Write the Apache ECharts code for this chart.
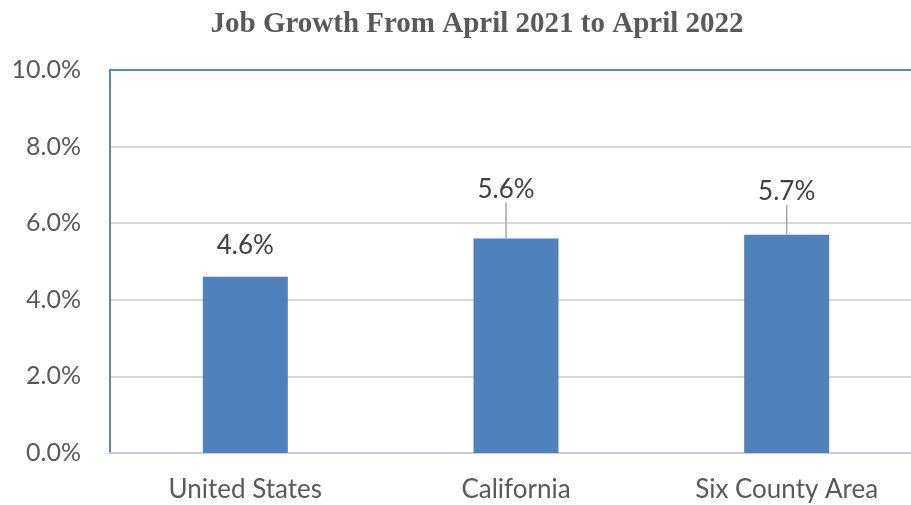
<!DOCTYPE html>
<html><head><meta charset="utf-8">
<script src="https://cdn.jsdelivr.net/npm/echarts@6/dist/echarts.min.js"></script>
<style>html,body{margin:0;padding:0;background:#fff;overflow:hidden;width:911px;height:505px}#c{width:922px;height:505px}</style>
</head><body><div id="c"></div>
<script>
const categories = ["United States", "California", "Six County Area"];
const growth = [4.6, 5.6, 5.7];
const yTicks = [0, 2, 4, 6, 8, 10];

const chart = echarts.init(document.getElementById('c'));
chart.setOption({
  animation: false,
  title: {
    text: 'Job Growth From April 2021 to April 2022',
    left: 472, top: 5, textAlign: 'center',
    textStyle: { fontFamily: 'Liberation Serif', fontWeight: 'bold', fontSize: 29, color: '#595959' }
  },
  grid: { left: 110, right: 0, top: 70, bottom: 52, containLabel: false },
  xAxis: [{
    type: 'category', data: categories,
    axisLine: { lineStyle: { color: '#C3CEDD', width: 2 } },
    axisTick: { show: false },
    axisLabel: { fontFamily: 'Lato', fontSize: 26, color: '#595959', margin: 24 }
  }, {
    type: 'category', data: categories, position: 'top',
    axisLine: { lineStyle: { color: '#5B86C2', width: 2 } },
    axisTick: { show: false }, axisLabel: { show: false }
  }],
  yAxis: {
    type: 'value', min: yTicks[0], max: yTicks[yTicks.length - 1], interval: 2,
    axisLine: { show: true, lineStyle: { color: '#5B86C2', width: 2 } },
    axisTick: { show: false },
    splitLine: { lineStyle: { color: '#D9D9D9', width: 2 } },
    axisLabel: { fontFamily: 'Lato', fontSize: 25, color: '#595959', margin: 29,
      formatter: v => v.toFixed(1) + '%' }
  },
  series: [{
    type: 'bar',
    data: growth.map((v, i) => ({ value: v, labelLine: { show: i > 0 } })),
    barWidth: 85,
    itemStyle: { color: '#4F81BD' },
    label: { show: true, position: 'top', distance: 18, fontFamily: 'Lato', fontSize: 26, color: '#404040',
      formatter: p => p.value.toFixed(1) + '%' },
    labelLine: { lineStyle: { color: '#A6A6A6', width: 1.5 } },
    labelLayout: p => {
      if (p.dataIndex === 1) return { dx: -10, dy: -18 };
      if (p.dataIndex === 2) return { dy: -12 };
      return {};
    }
  }]
});
</script></body></html>
